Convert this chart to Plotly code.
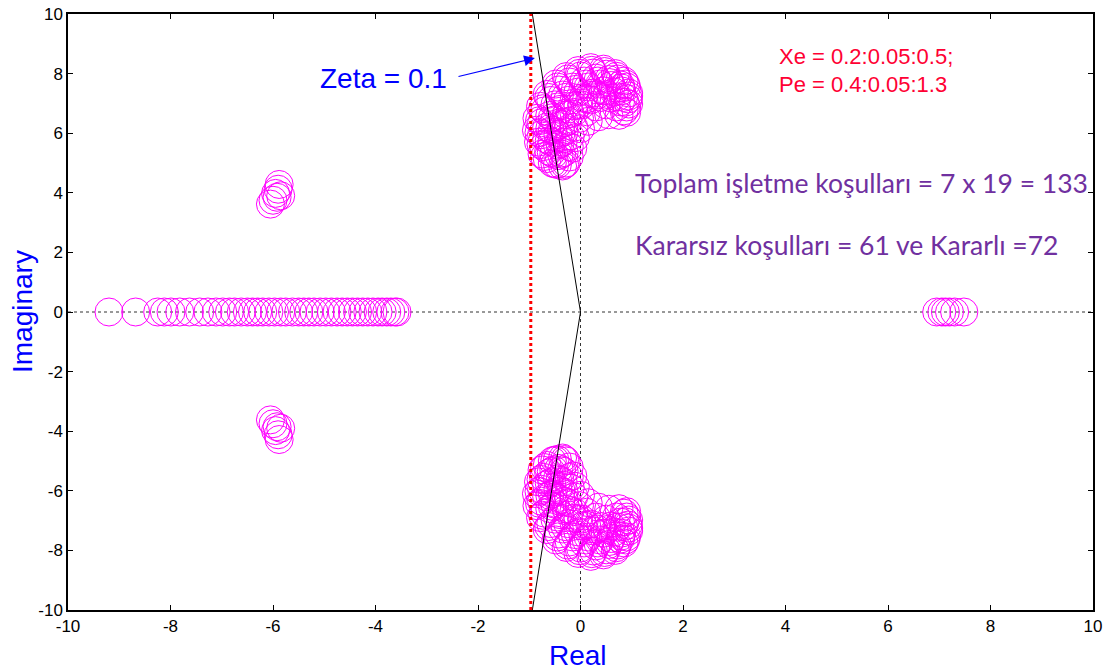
import plotly.graph_objects as go

# ---- data ----
# electromechanical mode (upper half-plane); conjugates drawn mirrored
em_re = [
    -0.75, -0.82, -0.86, -0.85, -0.78, -0.65, -0.48, -0.28, -0.05, 0.20, 0.45, 0.68, 0.85,
    -0.70, -0.77, -0.81, -0.80, -0.74, -0.62, -0.45, -0.25, -0.02, 0.22, 0.47, 0.70, 0.88,
    -0.65, -0.72, -0.76, -0.76, -0.70, -0.58, -0.42, -0.22, 0.00, 0.25, 0.50, 0.72, 0.90,
    -0.55, -0.62, -0.66, -0.66, -0.60, -0.50, -0.35, -0.15, 0.07, 0.30, 0.55, 0.78, 0.94,
    -0.50, -0.57, -0.61, -0.60, -0.55, -0.45, -0.30, -0.10, 0.11, 0.34, 0.57, 0.79, 0.94,
    -0.45, -0.52, -0.56, -0.55, -0.50, -0.40, -0.25, -0.05, 0.15, 0.38, 0.60, 0.80, 0.93,
    -0.35, -0.42, -0.45, -0.44, -0.38, -0.28, -0.12, 0.05, 0.25, 0.45, 0.66, 0.84, 0.94,
    -0.31, -0.37, -0.40, -0.38, -0.31, -0.20, -0.05, 0.12, 0.32, 0.52, 0.72, 0.87,
    -0.28, -0.32, -0.34, -0.32, -0.25, -0.13, 0.02, 0.20, 0.40, 0.60, 0.78, 0.90,
    -0.22, -0.22, -0.20, -0.13, -0.02, 0.12, 0.30, 0.50, 0.70, 0.85,
    -0.15, -0.10, 0.00, 0.15, 0.35, 0.55, 0.75, 0.90,
]
em_im = [
    5.30, 5.70, 6.10, 6.50, 6.90, 7.30, 7.65, 7.90, 8.10, 8.20, 8.15, 8.00, 7.75,
    5.22, 5.62, 6.02, 6.42, 6.82, 7.20, 7.55, 7.82, 8.01, 8.11, 8.07, 7.91, 7.65,
    5.15, 5.55, 5.95, 6.35, 6.75, 7.10, 7.45, 7.72, 7.92, 8.02, 7.98, 7.82, 7.55,
    5.00, 5.40, 5.80, 6.20, 6.60, 6.95, 7.28, 7.55, 7.75, 7.85, 7.80, 7.62, 7.35,
    4.97, 5.35, 5.75, 6.15, 6.52, 6.88, 7.20, 7.47, 7.65, 7.75, 7.70, 7.52, 7.25,
    4.95, 5.30, 5.70, 6.10, 6.45, 6.80, 7.10, 7.38, 7.55, 7.65, 7.60, 7.42, 7.15,
    4.90, 5.25, 5.60, 5.95, 6.30, 6.62, 6.92, 7.18, 7.35, 7.42, 7.38, 7.20, 6.98,
    4.95, 5.30, 5.65, 6.00, 6.35, 6.66, 6.94, 7.15, 7.28, 7.30, 7.22, 7.04,
    5.00, 5.35, 5.70, 6.05, 6.40, 6.70, 6.95, 7.12, 7.20, 7.18, 7.05, 6.88,
    5.20, 5.55, 5.90, 6.20, 6.50, 6.72, 6.88, 6.95, 6.88, 6.75,
    5.50, 5.85, 6.15, 6.40, 6.55, 6.62, 6.60, 6.70,
]
# complex pair near -6
cp_re = [-5.88, -5.90, -5.95, -5.92, -6.00, -6.05, -5.85]
cp_im = [4.28, 4.12, 3.98, 3.85, 3.75, 3.62, 3.90]
# real poles (left)
rl_re = [-9.20, -8.68, -8.25, -8.12, -7.99, -7.82, -7.63, -7.43, -7.27, -7.11,
         -6.98, -6.85, -6.75, -6.62, -6.50, -6.40, -6.30, -6.20, -6.08, -5.97,
         -5.85, -5.75, -5.62, -5.50, -5.40, -5.30, -5.20, -5.08, -4.97, -4.86,
         -4.75, -4.65, -4.55, -4.45, -4.35, -4.25, -4.15, -4.05, -3.95, -3.87,
         -3.78, -3.70, -3.62, -3.58]
# real poles (right, unstable)
rr_re = [6.95, 7.05, 7.12, 7.20, 7.30, 7.48]

zeta_x = -0.97       # vertical dotted line
sg_x = [-0.94, 0.0, -0.94]
sg_y = [10.0, 0.0, -10.0]

x_ticks = [-10, -8, -6, -4, -2, 0, 2, 4, 6, 8, 10]
y_ticks = [-10, -8, -6, -4, -2, 0, 2, 4, 6, 8, 10]

MAG = "#ff00ff"
FONT = "Liberation Sans, Arial, sans-serif"
CAL = "Lato, Open Sans, sans-serif"

all_re = em_re + em_re + cp_re + cp_re + rl_re + rr_re
all_im = (em_im + [-v for v in em_im] + cp_im + [-v for v in cp_im]
          + [0.0] * len(rl_re) + [0.0] * len(rr_re))

fig = go.Figure()

# thin dotted axes through origin
fig.add_trace(go.Scatter(x=[-10, 10], y=[0, 0], mode="lines",
                         line=dict(color="#333333", width=1, dash="dot"), hoverinfo="skip"))
fig.add_trace(go.Scatter(x=[0, 0], y=[-10, 10], mode="lines",
                         line=dict(color="#333333", width=1, dash="dot"), hoverinfo="skip"))

fig.add_trace(go.Scatter(x=all_re, y=all_im, mode="markers",
                         marker=dict(symbol="circle-open", size=28, color=MAG,
                                     line=dict(color=MAG, width=1))))

fig.add_trace(go.Scatter(x=sg_x, y=sg_y, mode="lines",
                         line=dict(color="black", width=1), hoverinfo="skip"))
fig.add_trace(go.Scatter(x=[zeta_x, zeta_x], y=[-10, 10], mode="lines",
                         line=dict(color="#ff0000", width=3, dash="dot"), hoverinfo="skip"))

ann = [
    dict(x=-5.12, y=7.85, text="Zeta = 0.1", showarrow=False, xanchor="left", yanchor="middle",
         font=dict(family=FONT, size=28, color="#0000ff")),
    dict(x=-0.89, y=8.52, ax=-2.41, ay=7.89, axref="x", ayref="y", text="", showarrow=True,
         arrowhead=2, arrowsize=1.8, arrowwidth=1.2, arrowcolor="#0000ff", standoff=0, startstandoff=0),
    dict(x=3.83, y=8.56, text="Xe = 0.2:0.05:0.5;", showarrow=False, xanchor="left", yanchor="middle",
         font=dict(family=FONT, size=22, color="#ff0033")),
    dict(x=3.83, y=7.65, text="Pe = 0.4:0.05:1.3", showarrow=False, xanchor="left", yanchor="middle",
         font=dict(family=FONT, size=22, color="#ff0033")),
    dict(x=1.02, y=4.33, text="Toplam işletme koşulları = 7 x 19 = 133", showarrow=False,
         xanchor="left", yanchor="middle", font=dict(family=CAL, size=26.5, color="#7030a0")),
    dict(x=1.02, y=2.25, text="Kararsız koşulları = 61 ve Kararlı =72", showarrow=False,
         xanchor="left", yanchor="middle", font=dict(family=CAL, size=26.5, color="#7030a0")),
    # axis titles
    dict(x=-0.05, xref="x", y=0, yref="paper", yshift=-45, text="Real", showarrow=False,
         xanchor="center", yanchor="middle", font=dict(family=FONT, size=28, color="#0000ff")),
    dict(x=0, xref="paper", xshift=-46, y=0.0, yref="y", text="Imaginary", showarrow=False,
         textangle=-90, xanchor="center", yanchor="middle",
         font=dict(family=FONT, size=28, color="#0000ff")),
]

axis_common = dict(showgrid=False, zeroline=False, showline=True, linecolor="black", linewidth=1.5,
                   mirror="ticks", ticks="inside", ticklen=5, tickcolor="black", automargin=False,
                   tickfont=dict(family=FONT, size=17, color="black"))

fig.update_layout(
    width=1107, height=672, showlegend=False,
    paper_bgcolor="white", plot_bgcolor="white",
    margin=dict(l=68, r=14, t=14, b=62),
    xaxis=dict(range=[-10, 10], tickvals=x_ticks, ticktext=[str(v) for v in x_ticks], **axis_common),
    yaxis=dict(range=[-10, 10], tickvals=y_ticks, ticktext=[str(v) for v in y_ticks], **axis_common),
    annotations=ann,
)

fig.write_html("out.html")
